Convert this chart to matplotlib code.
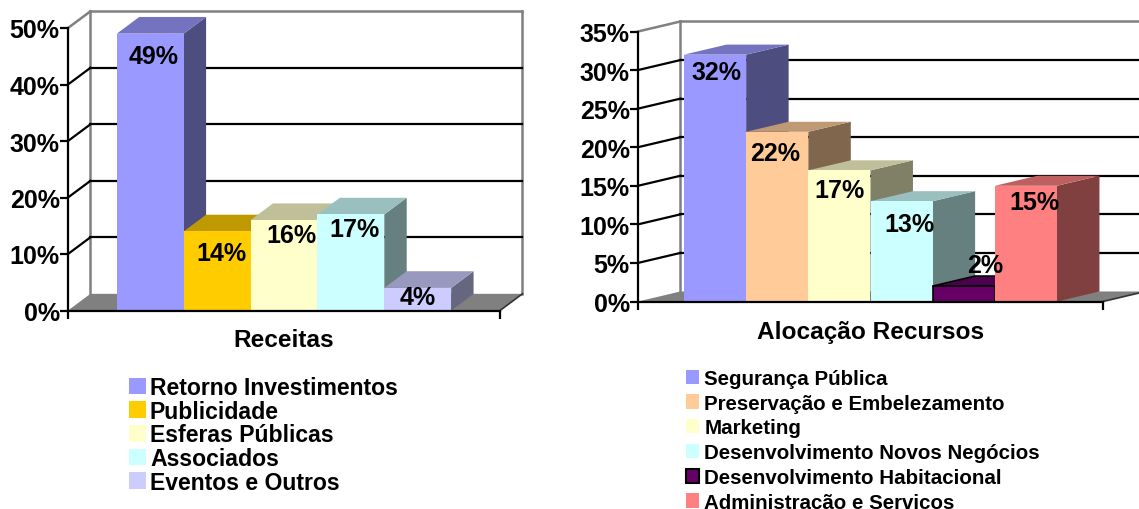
import matplotlib
matplotlib.use('Agg')
import matplotlib.pyplot as plt
from matplotlib.patches import Patch, Polygon

plt.rcParams['font.family'] = ['Liberation Sans', 'DejaVu Sans']
plt.rcParams['font.weight'] = 'bold'

# chart values
receitas_labels = ['Retorno Investimentos', 'Publicidade', 'Esferas Públicas', 'Associados', 'Eventos e Outros']
receitas_values = [49, 14, 16, 17, 4]
receitas_colors = ['#9999FF', '#FFCC00', '#FFFFCC', '#CCFFFF', '#CCCCFF']
receitas_ticks = [0, 10, 20, 30, 40, 50]

alocacao_labels = ['Segurança Pública', 'Preservação e Embelezamento', 'Marketing',
                   'Desenvolvimento Novos Negócios', 'Desenvolvimento Habitacional',
                   'Administração e Servicos']
alocacao_values = [32, 22, 17, 13, 2, 15]
alocacao_colors = ['#9999FF', '#FFCC99', '#FFFFCC', '#CCFFFF', '#660066', '#FF8080']
alocacao_ticks = [0, 5, 10, 15, 20, 25, 30, 35]

W, H = 1139, 510
fig = plt.figure(figsize=(W / 100, H / 100), dpi=100)


def shade(color, k):
    r, g, b = matplotlib.colors.to_rgb(color)
    return (r * k, g * k, b * k)


def panel(box, title, values, colors, ticks, margin, dx, dy, label_dx, label_dy, labelpad, outlined=()):
    # box is left, right, bottom, top of the front plane in pixels
    left, right, bottom, top = box
    ax = fig.add_axes([left / W, 1 - bottom / H, (right - left) / W, (bottom - top) / H])
    n = len(values)
    x0, x1 = -margin, n + margin
    ax.set_xlim(x0, x1)
    ax.set_ylim(ticks[0], ticks[-1])
    ax.patch.set_visible(False)

    # floor and back wall
    ax.add_patch(Polygon([(x0, 0), (x1, 0), (x1 + dx, dy), (x0 + dx, dy)], fc='#808080', ec='none',
                         clip_on=False, zorder=1))
    grey = dict(color='#808080', lw=1.8, clip_on=False, zorder=1.5)
    ax.plot([x0 + dx, x0 + dx], [dy, ticks[-1] + dy], **grey)
    ax.plot([x1 + dx, x1 + dx], [dy, ticks[-1] + dy], **grey)
    ax.plot([x0 + dx, x1 + dx], [ticks[-1] + dy] * 2, **grey)
    ax.plot([x0, x0 + dx], [ticks[-1], ticks[-1] + dy], **grey)
    for v in ticks[1:-1]:
        ax.plot([x0 + dx, x1 + dx], [v + dy, v + dy], color='black', lw=1.6, clip_on=False, zorder=1.6)
        ax.plot([x0, x0 + dx], [v, v + dy], color='black', lw=1.6, clip_on=False, zorder=1.6)
    ax.plot([x1, x1 + dx], [0, dy], color='#333333', lw=1.2, clip_on=False, zorder=1.6)

    # bars, left to right so each one covers the side of the previous
    for i, v in enumerate(values):
        z = 2 + i
        edge = 'black' if i in outlined else 'none'
        lw = 1.2 if i in outlined else 0
        ax.add_patch(Polygon([(i + 1, 0), (i + 1 + dx, dy), (i + 1 + dx, v + dy), (i + 1, v)],
                             fc=shade(colors[i], 0.5), ec=edge, lw=lw, clip_on=False, zorder=z))
        ax.add_patch(Polygon([(i, v), (i + 1, v), (i + 1 + dx, v + dy), (i + dx, v + dy)],
                             fc=shade(colors[i], 0.75), ec=edge, lw=lw, clip_on=False, zorder=z))
        ax.bar(i, v, width=1, align='edge', color=colors[i], edgecolor=edge, linewidth=lw,
               clip_on=False, zorder=z)
    for i, v in enumerate(values):
        ax.text(i + 0.5 + label_dx[i], v + label_dy[i], f'{v}%', ha='center', va='center',
                fontsize=18, fontweight='bold', zorder=20, clip_on=False)

    for name in ['top', 'right']:
        ax.spines[name].set_visible(False)
    for name in ['left', 'bottom']:
        ax.spines[name].set_linewidth(1.6)
        ax.spines[name].set_zorder(15)
    ax.set_yticks(ticks)
    ax.set_yticklabels([f'{t}%' for t in ticks], fontsize=18, fontweight='bold')
    ax.set_xticks([x0, x1])
    ax.set_xticklabels([])
    ax.tick_params(axis='both', length=5.5, width=1.6, pad=0.5)
    ax.set_xlabel(title, fontsize=17.6, fontweight='bold', labelpad=labelpad)
    return ax


panel((68, 500, 311.5, 29), 'Receitas', receitas_values, receitas_colors, receitas_ticks,
      margin=0.73, dx=0.335, dy=2.95,
      label_dx=[0.05, 0.07, 0.11, 0.06, 0.0], label_dy=[-4.0, -3.8, -2.6, -2.6, -1.6], labelpad=6.5)

panel((638, 1103, 302.5, 32.5), 'Alocação Recursos', alocacao_values, alocacao_colors, alocacao_ticks,
      margin=0.74, dx=0.683, dy=1.3,
      label_dx=[0.02, -0.03, 0.0, 0.13, 0.35, 0.14], label_dy=[-2.3, -2.7, -2.6, -2.9, 2.7, -2.1],
      labelpad=7.5, outlined=(4,))

# legends
left_handles = [Patch(fc=c, ec='none') for c in receitas_colors]
leg1 = fig.legend(left_handles, receitas_labels, loc='upper left', bbox_to_anchor=(129 / W, 1 - 377 / H),
                  frameon=False, fontsize=16.6, borderpad=0, borderaxespad=0, labelspacing=0.03,
                  handlelength=0.73, handleheight=0.73, handletextpad=0.18)

right_handles = [Patch(fc=c, ec='black' if c == '#660066' else 'none', lw=1.5 if c == '#660066' else 0)
                 for c in alocacao_colors]
leg2 = fig.legend(right_handles, alocacao_labels, loc='upper left', bbox_to_anchor=(686 / W, 1 - 370 / H),
                  frameon=False, fontsize=14.75, borderpad=0, borderaxespad=0, labelspacing=0.28,
                  handlelength=0.65, handleheight=0.7, handletextpad=0.25)

fig.savefig('out.png', dpi=100)
